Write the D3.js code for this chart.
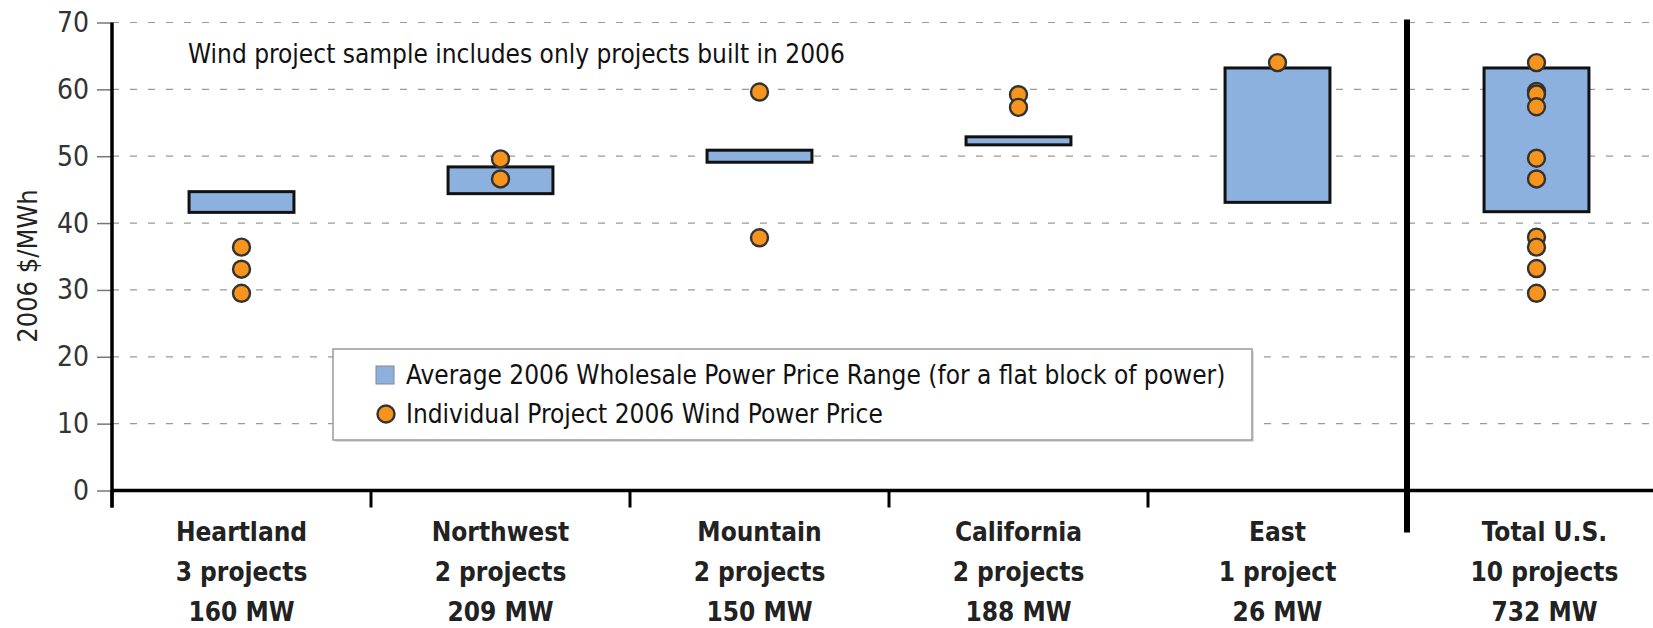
<!DOCTYPE html>
<html>
<head>
<meta charset="utf-8">
<script src="https://cdn.jsdelivr.net/npm/d3@7"></script>
<style>
  html, body { margin: 0; padding: 0; background: #fff; }
  svg text { font-family: "Liberation Sans Narrow", "Arial Narrow", "DejaVu Sans Condensed", sans-serif; }
</style>
</head>
<body>
<div id="chart"></div>
<script>
// regions + the total column
const categories = ["Heartland", "Northwest", "Mountain", "California", "East", "Total U.S."];
const projectCounts = ["3 projects", "2 projects", "2 projects", "2 projects", "1 project", "10 projects"];
const capacities = ["160 MW", "209 MW", "150 MW", "188 MW", "26 MW", "732 MW"];

// average 2006 wholesale price range (low / high), $/MWh
const rangeLow = [41.6, 44.4, 49.1, 51.7, 43.1, 41.7];
const rangeHigh = [44.7, 48.4, 50.9, 52.9, 63.2, 63.2];

// individual project wind power prices, $/MWh
const projectPrices = [
    [36.4, 33.1, 29.5],
    [49.6, 46.6],
    [59.6, 37.8],
    [59.2, 57.3],
    [64.0],
    [64.0, 59.7, 59.3, 57.4, 49.7, 46.6, 37.9, 36.4, 33.2, 29.5]
];

const yTicks = [0, 10, 20, 30, 40, 50, 60, 70];

const width = 1653, height = 628;
const margin = {top: 22.5, left: 112, bottom: 137.5};

const xScale = d3.scaleBand()
    .domain(categories)
    .range([margin.left, margin.left + 259 * categories.length])
    .padding(0);

const yScale = d3.scaleLinear()
    .domain([0, 70])
    .range([height - margin.bottom, margin.top]);

const svg = d3.select("#chart")
    .append("svg")
    .attr("width", width)
    .attr("height", height);

// dashed grid
svg.append("g")
    .selectAll("line")
    .data(yTicks.filter(d => d > 0))
    .join("line")
    .attr("x1", margin.left)
    .attr("x2", width)
    .attr("y1", d => yScale(d))
    .attr("y2", d => yScale(d))
    .attr("stroke", "#9a9a9a")
    .attr("stroke-width", 1.2)
    .attr("stroke-dasharray", "7,11");

// y axis
const yAxis = svg.append("g")
    .attr("transform", `translate(${margin.left},0)`)
    .call(d3.axisLeft(yScale).tickValues(yTicks).tickSize(15).tickPadding(8));
yAxis.select(".domain").remove();
yAxis.selectAll(".tick line").attr("stroke", "#777").attr("stroke-width", 1.5);
yAxis.selectAll(".tick text")
    .attr("font-size", 28)
    .attr("fill", "#333");

svg.append("line")
    .attr("x1", margin.left).attr("x2", margin.left)
    .attr("y1", yScale(70)).attr("y2", yScale(0) + 17)
    .attr("stroke", "#000").attr("stroke-width", 3.5);

svg.append("text")
    .attr("transform", "translate(37,266) rotate(-90)")
    .attr("text-anchor", "middle")
    .attr("font-size", 27)
    .attr("fill", "#222")
    .text("2006 $/MWh");

// x axis line and tick marks at the band edges
svg.append("line")
    .attr("x1", margin.left).attr("x2", width)
    .attr("y1", yScale(0)).attr("y2", yScale(0))
    .attr("stroke", "#000").attr("stroke-width", 3.5);

svg.append("g")
    .selectAll("line")
    .data(categories.slice(0, 5))
    .join("line")
    .attr("x1", d => xScale(d))
    .attr("x2", d => xScale(d))
    .attr("y1", yScale(0))
    .attr("y2", yScale(0) + 17)
    .attr("stroke", "#000")
    .attr("stroke-width", 3);

// divider before the total column
svg.append("line")
    .attr("x1", xScale("Total U.S.")).attr("x2", xScale("Total U.S."))
    .attr("y1", yScale(70) - 3).attr("y2", yScale(0) + 42)
    .attr("stroke", "#000").attr("stroke-width", 6);

// category labels
const labels = svg.append("g")
    .selectAll("text")
    .data(categories)
    .join("text")
    .attr("text-anchor", "middle")
    .attr("font-size", 26)
    .attr("font-weight", "bold")
    .attr("fill", "#222");

labels.each(function(d, i) {
    const t = d3.select(this);
    const cx = xScale(d) + xScale.bandwidth() / 2 + (i === 5 ? 8 : 0);
    [d, projectCounts[i], capacities[i]].forEach(function(s, j) {
        t.append("tspan").attr("x", cx).attr("y", 541 + j * 40).text(s);
    });
});

// price range boxes
const boxW = xScale.bandwidth() * 0.405;
svg.append("g")
    .selectAll("rect")
    .data(categories)
    .join("rect")
    .attr("x", d => xScale(d) + (xScale.bandwidth() - boxW) / 2)
    .attr("width", boxW)
    .attr("y", (d, i) => yScale(rangeHigh[i]))
    .attr("height", (d, i) => yScale(rangeLow[i]) - yScale(rangeHigh[i]))
    .attr("fill", "#8db1de")
    .attr("stroke", "#111")
    .attr("stroke-width", 3);

// project dots
const dots = [];
projectPrices.forEach(function(arr, i) {
    arr.forEach(function(v) { dots.push({cat: categories[i], v: v}); });
});
svg.append("g")
    .selectAll("circle")
    .data(dots)
    .join("circle")
    .attr("cx", d => xScale(d.cat) + xScale.bandwidth() / 2)
    .attr("cy", d => yScale(d.v))
    .attr("r", 8.5)
    .attr("fill", "#f7941d")
    .attr("stroke", "#333")
    .attr("stroke-width", 2.4);

// note
svg.append("text")
    .attr("x", 188)
    .attr("y", 63)
    .attr("font-size", 26)
    .attr("fill", "#111")
    .text("Wind project sample includes only projects built in 2006");

// legend
const legend = svg.append("g").attr("transform", "translate(333,349)");
legend.append("rect")
    .attr("x", 2).attr("y", 2)
    .attr("width", 919).attr("height", 91)
    .attr("fill", "#ddd");
legend.append("rect")
    .attr("width", 919).attr("height", 91)
    .attr("fill", "#fff")
    .attr("stroke", "#999")
    .attr("stroke-width", 1.5);
legend.append("rect")
    .attr("x", 43).attr("y", 17)
    .attr("width", 18).attr("height", 18)
    .attr("fill", "#8db1de")
    .attr("stroke", "#888")
    .attr("stroke-width", 1);
legend.append("circle")
    .attr("cx", 53).attr("cy", 65)
    .attr("r", 8.5)
    .attr("fill", "#f7941d")
    .attr("stroke", "#333")
    .attr("stroke-width", 2.4);
legend.append("text")
    .attr("x", 73).attr("y", 35)
    .attr("font-size", 26)
    .attr("fill", "#111")
    .text("Average 2006 Wholesale Power Price Range (for a flat block of power)");
legend.append("text")
    .attr("x", 73).attr("y", 74)
    .attr("font-size", 26)
    .attr("fill", "#111")
    .text("Individual Project 2006 Wind Power Price");
</script>
</body>
</html>
